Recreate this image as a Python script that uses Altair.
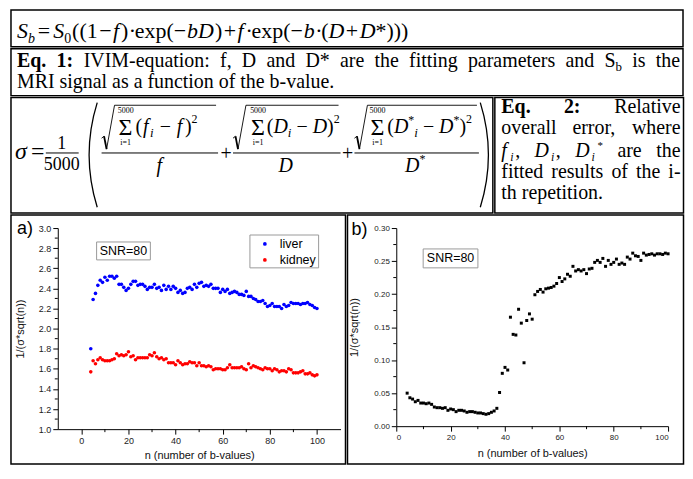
import math
import altair as alt
import pandas as pd

# ---------------- data ----------------
n_values = list(range(4, 101))

liver = [1.80, 2.29, 2.35, 2.43, 2.48, 2.46, 2.51, 2.48, 2.52, 2.52,
         2.50, 2.52, 2.44, 2.44, 2.41, 2.38, 2.40, 2.44, 2.47, 2.47,
         2.43, 2.44, 2.44, 2.42, 2.39, 2.41, 2.41, 2.44, 2.40, 2.41,
         2.38, 2.43, 2.39, 2.42, 2.39, 2.42, 2.40, 2.36, 2.38, 2.35,
         2.36, 2.40, 2.41, 2.39, 2.44, 2.41, 2.45, 2.46, 2.42, 2.43,
         2.42, 2.44, 2.40, 2.40, 2.40, 2.36, 2.39, 2.37, 2.39, 2.35,
         2.36, 2.37, 2.36, 2.34, 2.34, 2.33, 2.37, 2.32, 2.32, 2.30,
         2.29, 2.27, 2.27, 2.28, 2.25, 2.22, 2.23, 2.25, 2.22, 2.22,
         2.22, 2.20, 2.24, 2.22, 2.23, 2.26, 2.25, 2.25, 2.25, 2.24,
         2.25, 2.25, 2.26, 2.24, 2.23, 2.21, 2.20]

kidney = [1.57, 1.68, 1.65, 1.69, 1.71, 1.69, 1.68, 1.68, 1.68, 1.69,
          1.70, 1.75, 1.73, 1.74, 1.73, 1.74, 1.77, 1.72, 1.73, 1.69,
          1.71, 1.71, 1.71, 1.71, 1.71, 1.74, 1.73, 1.76, 1.72, 1.70,
          1.71, 1.69, 1.70, 1.66, 1.66, 1.66, 1.64, 1.68, 1.66, 1.64,
          1.65, 1.65, 1.67, 1.66, 1.66, 1.63, 1.66, 1.63, 1.63, 1.62,
          1.63, 1.62, 1.59, 1.60, 1.60, 1.60, 1.59, 1.59, 1.61, 1.64,
          1.61, 1.61, 1.61, 1.61, 1.62, 1.60, 1.59, 1.65, 1.61, 1.63,
          1.62, 1.61, 1.60, 1.59, 1.61, 1.60, 1.60, 1.58, 1.60, 1.59,
          1.57, 1.58, 1.58, 1.57, 1.60, 1.59, 1.56, 1.56, 1.56, 1.57,
          1.58, 1.55, 1.55, 1.56, 1.54, 1.53, 1.54]

panel_b = [0.050, 0.043, 0.041, 0.037, 0.039, 0.035, 0.035, 0.034, 0.035, 0.033,
           0.029, 0.028, 0.028, 0.027, 0.028, 0.024, 0.026, 0.025, 0.022, 0.024,
           0.024, 0.023, 0.021, 0.022, 0.022, 0.021, 0.020, 0.020, 0.019, 0.018,
           0.019, 0.021, 0.023, 0.027, 0.051, 0.080, 0.089, 0.085, 0.165, 0.139,
           0.138, 0.177, 0.156, 0.096, 0.160, 0.170, 0.162, 0.199, 0.204, 0.207,
           0.203, 0.208, 0.209, 0.210, 0.212, 0.216, 0.225, 0.219, 0.223, 0.230,
           0.227, 0.242, 0.235, 0.237, 0.235, 0.237, 0.231, 0.238, 0.239, 0.248,
           0.251, 0.248, 0.254, 0.242, 0.251, 0.245, 0.248, 0.253, 0.245, 0.247,
           0.245, 0.256, 0.253, 0.262, 0.258, 0.257, 0.251, 0.262, 0.259, 0.260,
           0.261, 0.259, 0.261, 0.261, 0.260, 0.262, 0.261]

SERIES = ["liver", "kidney"]
SERIES_COLORS = ["#0000ff", "#ff0000"]

x_ticks = [0, 20, 40, 60, 80, 100]
x_minor = [10, 30, 50, 70, 90]
y_ticks_a = [1.0, 1.2, 1.4, 1.6, 1.8, 2.0, 2.2, 2.4, 2.6, 2.8, 3.0]
y_minor_a = [1.1, 1.3, 1.5, 1.7, 1.9, 2.1, 2.3, 2.5, 2.7, 2.9]
y_ticks_b = [0.0, 0.05, 0.10, 0.15, 0.20, 0.25, 0.30]
y_minor_b = [0.025, 0.075, 0.125, 0.175, 0.225, 0.275]

X_TITLE = "n (number of b-values)"
Y_TITLE = "1/(\u03c3*sqrt(n))"
SNR_LABEL = "SNR=80"

# ---------------- helpers ----------------
SER = "Liberation Serif"
SANS = "Liberation Sans"
ONE = pd.DataFrame({"k": [0]})

W_R = {' ': 250, '(': 333, ')': 333, '*': 500, '+': 564, ',': 250, '-': 333, '.': 250,
       '/': 278, ':': 278, '=': 564, '\u2212': 564, '\u00b7': 250, '\u03a3': 600, '\u03c3': 550,
       'A': 722, 'B': 667, 'C': 667, 'D': 722, 'E': 611, 'F': 556, 'G': 722, 'H': 722,
       'I': 333, 'J': 389, 'K': 722, 'L': 611, 'M': 889, 'N': 722, 'O': 722, 'P': 556,
       'Q': 722, 'R': 667, 'S': 556, 'T': 611, 'U': 722, 'V': 722, 'W': 944, 'X': 722,
       'Y': 722, 'Z': 611, 'a': 444, 'b': 500, 'c': 444, 'd': 500, 'e': 444, 'f': 333,
       'g': 500, 'h': 500, 'i': 278, 'j': 278, 'k': 500, 'l': 278, 'm': 778, 'n': 500,
       'o': 500, 'p': 500, 'q': 500, 'r': 333, 's': 389, 't': 278, 'u': 500, 'v': 500,
       'w': 722, 'x': 500, 'y': 500, 'z': 444}
W_I = {'S': 500, 'b': 500, 'f': 278, 'D': 722, 'i': 278}
W_B = {'E': 667, 'q': 556, ':': 333, '.': 250, ' ': 250}


def tw(s, size, style="normal", weight="normal"):
    tot = 0
    for c in s:
        base = W_R.get(c, 500)
        if weight == "bold":
            tot += W_B.get(c, base * 1.04)
        elif style == "italic":
            tot += W_I.get(c, base)
        else:
            tot += base
    return tot * size / 1000.0


def T(s, x, y, size, style="normal", weight="normal", align="left", font=SER,
      color="black", baseline="alphabetic"):
    return alt.Chart(ONE).mark_text(
        text=s, font=font, fontSize=size, fontStyle=style, fontWeight=weight,
        align=align, baseline=baseline, color=color
    ).encode(x=alt.value(x), y=alt.value(y))


def R(x0, y0, x1, y1, w=1.0, color="black"):
    return alt.Chart(ONE).mark_rule(color=color, strokeWidth=w).encode(
        x=alt.value(x0), y=alt.value(y0), x2=alt.value(x1), y2=alt.value(y1))


def BOX(x0, y0, x1, y1, color="black", w=1.5):
    return alt.Chart(ONE).mark_rect(fillOpacity=0, stroke=color, strokeWidth=w).encode(
        x=alt.value(x0), x2=alt.value(x1), y=alt.value(y0), y2=alt.value(y1))


def DOT(x, y, color, size=14):
    return alt.Chart(ONE).mark_point(filled=True, shape="circle", size=size, opacity=1,
                                     color=color).encode(x=alt.value(x), y=alt.value(y))


def PAREN(x_edge, y_top, y_bot, bulge, left=True, w=1.3):
    h = y_bot - y_top
    rad = (h * h / 4 + bulge * bulge) / (2 * bulge)
    d = math.asin((h / 2) / rad)
    cy = (y_top + y_bot) / 2
    if left:
        cx, t0, t1 = x_edge + rad, 1.5 * math.pi - d, 1.5 * math.pi + d
    else:
        cx, t0, t1 = x_edge - rad, 0.5 * math.pi - d, 0.5 * math.pi + d
    return alt.Chart(ONE).mark_arc(radius=rad, radius2=rad - w, theta=t0, theta2=t1,
                                   color="black").encode(x=alt.value(cx), y=alt.value(cy))


def run(pieces, x, y):
    """pieces: (text, size, style, weight, dy, gap_before)"""
    layers = []
    for (s, size, style, weight, dy, gap) in pieces:
        x += gap
        layers.append(T(s, x, y + dy, size, style, weight))
        x += tw(s, size, style, weight)
    return layers, x


def run_width(pieces):
    x = 0
    for (s, size, style, weight, dy, gap) in pieces:
        x += gap + tw(s, size, style, weight)
    return x


def justify(words, x0, x1, y):
    widths = [run_width(w) for w in words]
    gap = (x1 - x0 - sum(widths)) / (len(words) - 1)
    layers = []
    x = x0
    for w, wd in zip(words, widths):
        L, _ = run(w, x, y)
        layers += L
        x += wd + gap
    return layers


def P(s, size=20, style="normal", weight="normal", dy=0, gap=0):
    return (s, size, style, weight, dy, gap)


def WORD(s, size=20, weight="normal", style="normal"):
    return [P(s, size, style, weight)]


# ---------------- geometry ----------------
W_ALL = 675
H1, H2, H3, H4 = 37, 47, 116, 250

# ---------------- row 1 : IVIM equation ----------------
fy1 = lambda y: (y - 2) * H1 / 40.0
F1 = 22
FS = 14
eq1 = [P("S", F1, "italic"), P("b", FS, "italic", dy=5),
       P("=", F1, gap=3), P("S", F1, "italic", gap=3), P("0", FS, dy=5),
       P("((", F1, gap=1), P("1", F1), P("\u2212", F1, gap=1.5), P("f", F1, "italic", gap=1.5),
       P(")", F1, gap=2), P("\u00b7", F1, gap=0.5), P("exp", F1, gap=0.5), P("(", F1),
       P("\u2212", F1), P("bD", F1, "italic", gap=1), P(")", F1, gap=1),
       P("+", F1, gap=1.5), P("f", F1, "italic", gap=1.5), P("\u00b7", F1, gap=2),
       P("exp", F1, gap=0.5), P("(", F1), P("\u2212", F1), P("b", F1, "italic", gap=1),
       P("\u00b7", F1, gap=0.5), P("(", F1, gap=0.5), P("D", F1, "italic"),
       P("+", F1, gap=1.5), P("D", F1, "italic", gap=1.5), P("*", F1), P(")))", F1)]
L1, _ = run(eq1, 6, fy1(32))
cell1 = alt.layer(BOX(0, 0, W_ALL, H1), *L1).properties(width=W_ALL, height=H1)

# ---------------- row 2 : Eq. 1 caption ----------------
fy2 = lambda y: (y - 42) * H2 / 51.0
line1 = [WORD("Eq.", weight="bold"), WORD("1:", weight="bold"), WORD("IVIM-equation:"),
         WORD("f,"), WORD("D"), WORD("and"), WORD("D*"), WORD("are"), WORD("the"),
         WORD("fitting"), WORD("parameters"), WORD("and"),
         [P("S"), P("b", 13, dy=4)], WORD("is"), WORD("the")]
L2 = justify(line1, 6, 672, fy2(62))
L2.append(T("MRI signal as a function of the b-value.", 6, fy2(85), 20))
cell2 = alt.layer(BOX(0, 0, W_ALL, H2), *L2).properties(width=W_ALL, height=H2)

# ---------------- row 3a : relative overall error ----------------
W3A, W3B = 484, 189.5
fx3 = lambda x: x - 11
fy3 = lambda y: (y - 93) * H3 / 121.0
A = 151  # math axis (reference px)
L3 = []
L3.append(T("\u03c3", fx3(15), fy3(A + 6), 24, "italic"))
L3.append(T("=", fx3(31), fy3(A + 6), 24))
L3.append(T("1", fx3(62), fy3(A - 4), 18, align="center"))
L3.append(R(fx3(46), fy3(A), fx3(79), fy3(A), 1))
L3.append(T("5000", fx3(62), fy3(A + 18), 18, align="center"))
L3.append(PAREN(fx3(89), fy3(98), fy3(208), 8, left=True))
L3.append(PAREN(fx3(491), fy3(98), fy3(208), 8, left=False))


def radical(x0, ytop, ybot, xend):
    xm = x0 + 5
    xt = x0 + 13
    return [R(x0, ybot - 11, x0 + 2.5, ybot - 13, 0.9),
            R(x0 + 2.5, ybot - 13, xm, ybot, 1.8),
            R(xm, ybot, xt, ytop, 0.9),
            R(xt, ytop, xend, ytop, 0.9)]


def sqrt_frac(xr, xs, xrun, xbar1, run_pieces, den_pieces, den_center):
    L = []
    L += radical(fx3(xr), fy3(A - 50), fy3(A - 4), fx3(xbar1 - 2))
    sw = tw("\u03a3", 24)
    L.append(T("\u03a3", fx3(xs), fy3(A - 19), 24))
    L.append(T("5000", fx3(xs) + sw / 2, fy3(A - 42), 8, align="center"))
    L.append(T("i=1", fx3(xs) + sw / 2, fy3(A - 8), 8, align="center"))
    rl, _ = run(run_pieces, fx3(xrun), fy3(A - 21))
    L += rl
    L.append(R(fx3(xr), fy3(A), fx3(xbar1), fy3(A), 1))
    dw = run_width(den_pieces)
    dl, _ = run(den_pieces, fx3(den_center) - dw / 2, fy3(A + 20))
    L += dl
    return L


num1 = [P("("), P("f", style="italic", gap=1), P("i", 13, "italic", dy=4, gap=1.5),
        P("\u2212", gap=6), P("f", style="italic", gap=6), P(")", gap=2.5), P("2", 12, dy=-10)]
num2 = [P("("), P("D", style="italic"), P("i", 13, "italic", dy=4), P("\u2212", gap=5),
        P("D", style="italic", gap=5), P(")"), P("2", 12, dy=-10)]
num3 = [P("("), P("D", style="italic"), P("*", 12, dy=-9), P("i", 13, "italic", dy=4),
        P("\u2212", gap=5), P("D", style="italic", gap=5), P("*", 12, dy=-9), P(")"),
        P("2", 12, dy=-10)]
L3 += sqrt_frac(102, 119, 136, 219, num1, [P("f", style="italic")], 160)
L3.append(T("+", fx3(227), fy3(A + 7), 20, align="center"))
L3 += sqrt_frac(234, 252, 268, 342, num2, [P("D", style="italic")], 287)
L3.append(T("+", fx3(349), fy3(A + 7), 20, align="center"))
L3 += sqrt_frac(356, 372, 389, 481, num3, [P("D", style="italic"), P("*", 12, dy=-9)], 417)
cell3a = alt.layer(BOX(0, 0, W3A, H3), *L3).properties(width=W3A, height=H3)

# ---------------- row 3b : Eq. 2 caption ----------------
fx3b = lambda x: x - 496.5
xl, xr_ = fx3b(503), fx3b(683)
L3b = []
L3b += justify([WORD("Eq.", weight="bold"), WORD("2:", weight="bold"), WORD("Relative")],
               xl, xr_, fy3(109))
L3b += justify([WORD("overall"), WORD("error,"), WORD("where")], xl, xr_, fy3(131))
L3b += justify([[P("f", style="italic"), P("i", 12, "italic", dy=4, gap=3.5), P(",", gap=1.5)],
                [P("D", style="italic"), P("i", 12, "italic", dy=4, gap=2), P(",", gap=1.5)],
                [P("D", style="italic"), P("i", 12, "italic", dy=4, gap=2),
                 P("*", 11, dy=-8, gap=2.5)],
                WORD("are"), WORD("the")], xl, xr_, fy3(155))
L3b += justify([WORD("fitted"), WORD("results"), WORD("of"), WORD("the"), WORD("i-")],
               xl, xr_, fy3(177))
L3b.append(T("th repetition.", xl, fy3(199), 20))
cell3b = alt.layer(BOX(0, 0, W3B, H3), *L3b).properties(width=W3B, height=H3)


# ---------------- row 4 : plots (view = whole cell, plot area via scale ranges) ----------------
def axis(values, title, fmt, size, tpad, offset):
    return alt.Axis(values=values, title=title, format=fmt, grid=False, offset=offset,
                    domainColor="black", domainWidth=1, tickColor="black", tickWidth=1,
                    tickSize=5, labelFont=SANS, labelFontSize=size, labelColor="#222222",
                    labelPadding=2, titleFont=SANS, titleFontSize=11,
                    titleFontWeight="normal", titleColor="#111111", titlePadding=tpad)


# panel a
CW_A = 336
XR_A, YR_A = [47, 331], [215, 13]
xs_a = alt.Scale(domain=[-10, 110], range=XR_A, nice=False, zero=False)
ys_a = alt.Scale(domain=[1.0, 3.0], range=YR_A, nice=False, zero=False)
ax_xa = axis(x_ticks, X_TITLE, "d", 9, 4, -(H4 - YR_A[0]))
ax_ya = axis(y_ticks_a, Y_TITLE, ".1f", 9, 13, -XR_A[0])
df_a = pd.DataFrame({"n": n_values + n_values, "v": liver + kidney,
                     "tissue": ["liver"] * len(n_values) + ["kidney"] * len(n_values)})
pts_a = alt.Chart(df_a).mark_point(filled=True, shape="circle", size=13, opacity=1).encode(
    x=alt.X("n:Q", scale=xs_a, axis=ax_xa),
    y=alt.Y("v:Q", scale=ys_a, axis=ax_ya),
    color=alt.Color("tissue:N", scale=alt.Scale(domain=SERIES, range=SERIES_COLORS),
                    legend=None))
minor_y_a = alt.Chart(pd.DataFrame({"v": y_minor_a})).mark_rule(color="black").encode(
    y=alt.Y("v:Q", scale=ys_a, axis=ax_ya), x=alt.value(XR_A[0] - 3), x2=alt.value(XR_A[0]))
minor_x_a = alt.Chart(pd.DataFrame({"n": x_minor})).mark_rule(color="black").encode(
    x=alt.X("n:Q", scale=xs_a, axis=ax_xa), y=alt.value(YR_A[0]), y2=alt.value(YR_A[0] + 3))
plot_a = alt.layer(
    BOX(0, 0, CW_A, H4),
    minor_y_a, minor_x_a, pts_a,
    BOX(86, 27, 140, 45, color="#999999", w=1),
    T(SNR_LABEL, 113, 36.5, 12.5, font=SANS, align="center", baseline="middle"),
    BOX(240, 20, 309, 53, color="#999999", w=1),
    DOT(255, 29, SERIES_COLORS[0]), DOT(255, 45, SERIES_COLORS[1]),
    T(SERIES[0], 270, 29.5, 12.5, font=SANS, baseline="middle"),
    T(SERIES[1], 270, 45.5, 12.5, font=SANS, baseline="middle"),
    T("a)", 6, 19, 18, font=SANS),
).properties(width=CW_A, height=H4)

# panel b
CW_B = 337.5
XR_B, YR_B = [49, 322], [212, 13]
xs_b = alt.Scale(domain=[0, 100], range=XR_B, nice=False, zero=False)
ys_b = alt.Scale(domain=[0.0, 0.30], range=YR_B, nice=False, zero=False)
ax_xb = axis(x_ticks, X_TITLE, "d", 8, 6, -(H4 - YR_B[0]))
ax_yb = axis(y_ticks_b, Y_TITLE, ".2f", 8, 14, -XR_B[0])
df_b = pd.DataFrame({"n": n_values, "v": panel_b})
pts_b = alt.Chart(df_b).mark_square(size=9, color="black", opacity=1).encode(
    x=alt.X("n:Q", scale=xs_b, axis=ax_xb),
    y=alt.Y("v:Q", scale=ys_b, axis=ax_yb))
minor_y_b = alt.Chart(pd.DataFrame({"v": y_minor_b})).mark_rule(color="black").encode(
    y=alt.Y("v:Q", scale=ys_b, axis=ax_yb), x=alt.value(XR_B[0] - 3), x2=alt.value(XR_B[0]))
minor_x_b = alt.Chart(pd.DataFrame({"n": x_minor})).mark_rule(color="black").encode(
    x=alt.X("n:Q", scale=xs_b, axis=ax_xb), y=alt.value(YR_B[0]), y2=alt.value(YR_B[0] + 3))
plot_b = alt.layer(
    BOX(0, 0, CW_B, H4),
    minor_y_b, minor_x_b, pts_b,
    BOX(76, 34, 131, 53, color="#999999", w=1),
    T(SNR_LABEL, 103.5, 43.5, 12.5, font=SANS, align="center", baseline="middle"),
    T("b)", 4, 20, 18, font=SANS),
).properties(width=CW_B, height=H4)

row3 = alt.hconcat(cell3a, cell3b, spacing=0)
row4 = alt.hconcat(plot_a, plot_b, spacing=0)

chart = alt.vconcat(cell1, cell2, row3, row4, spacing=0).properties(
    padding={"left": 2, "top": 0, "right": 0, "bottom": 0}
).configure_view(strokeWidth=0)

chart.save("out.html", embed_options={"renderer": "svg", "actions": False})
